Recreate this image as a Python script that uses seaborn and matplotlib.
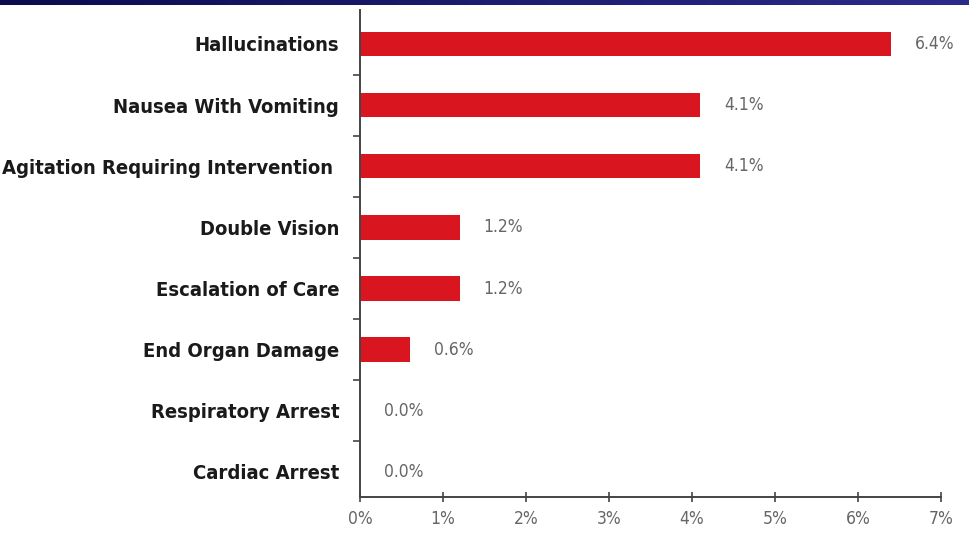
import matplotlib
matplotlib.use("Agg")
import matplotlib.pyplot as plt
import numpy as np
import pandas as pd
import seaborn as sns
from matplotlib.ticker import FixedLocator, FuncFormatter

categories = [
    "Hallucinations",
    "Nausea With Vomiting",
    "Agitation Requiring Intervention ",
    "Double Vision",
    "Escalation of Care",
    "End Organ Damage",
    "Respiratory Arrest",
    "Cardiac Arrest",
]
values = [6.4, 4.1, 4.1, 1.2, 1.2, 0.6, 0.0, 0.0]
x_ticks = [0, 1, 2, 3, 4, 5, 6, 7]

df = pd.DataFrame({"event": categories, "pct": values})

sns.set_theme(style="white")
plt.rcParams["font.family"] = ["DejaVu Sans"]
plt.rcParams["font.stretch"] = "condensed"

fig = plt.figure(figsize=(9.69, 5.38), dpi=100)
ax = fig.add_axes([360 / 969, 1 - 497 / 538, 581 / 969, 487 / 538])

sns.barplot(data=df, x="pct", y="event", color="#d9161f", saturation=1,
            width=0.40, ax=ax, edgecolor="none")

ax.set_xlim(0, 7)
ax.set_ylim(7.41, -0.556)
ax.set_xlabel("")
ax.set_ylabel("")

axis_col = "#444444"
for side in ["top", "right"]:
    ax.spines[side].set_visible(False)
for side in ["left", "bottom"]:
    ax.spines[side].set_color(axis_col)
    ax.spines[side].set_linewidth(1.4)

ax.xaxis.set_major_locator(FixedLocator(x_ticks))
ax.xaxis.set_major_formatter(FuncFormatter(lambda v, _: f"{int(v)}%"))
ax.tick_params(axis="x", direction="inout", length=7, width=1.2, color=axis_col,
               labelsize=12.5, labelcolor="#666666", pad=6, bottom=True)

# category labels on major ticks, separator ticks between rows
ax.yaxis.set_major_locator(FixedLocator(np.arange(len(categories))))
ax.set_yticklabels(categories)
ax.tick_params(axis="y", which="major", length=0, pad=15, labelsize=14.5,
               labelcolor="#1a1a1a")
for lab in ax.get_yticklabels():
    lab.set_fontweight("bold")
    lab.set_fontstretch("condensed")
ax.yaxis.set_minor_locator(FixedLocator(np.arange(len(categories) - 1) + 0.5))
ax.tick_params(axis="y", which="minor", direction="out", length=5, width=1.2,
               color=axis_col, left=True)

for i, v in enumerate(values):
    ax.text(v + 0.29, i, f"{v:.1f}%", va="center", ha="left",
            fontsize=12.5, color="#666666", fontstretch="condensed")

# navy header strip
grad = np.linspace(0, 1, 256).reshape(1, -1)
band = fig.add_axes([0, 1 - 5 / 538, 1, 5 / 538])
band.imshow(grad, aspect="auto",
            cmap=matplotlib.colors.LinearSegmentedColormap.from_list(
                "hdr", ["#0b0b4e", "#1c1c70", "#2b2b8c"]))
band.axis("off")

fig.savefig("out.png", dpi=100, facecolor="white")
